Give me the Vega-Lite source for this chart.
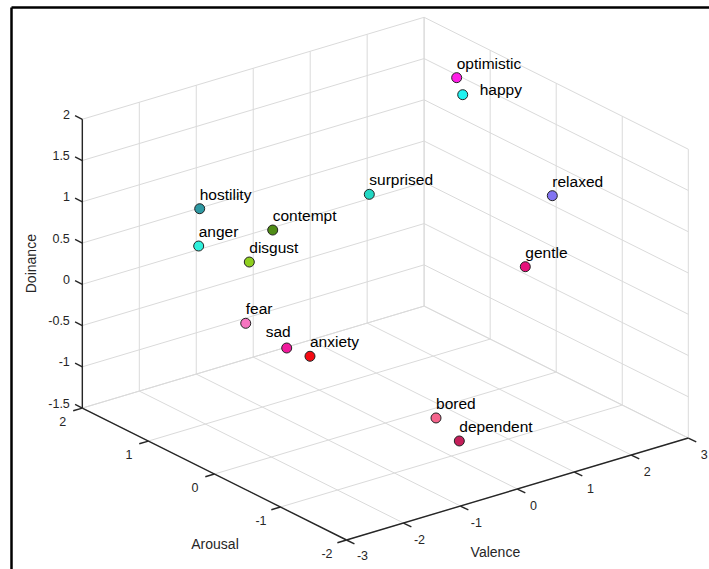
{
  "$schema": "https://vega.github.io/schema/vega-lite/v6.json",
  "width": 698,
  "height": 562,
  "autosize": {"type": "none"},
  "padding": {"left": 11, "top": 7, "right": 0, "bottom": 0},
  "background": "white",
  "config": {
    "view": {"stroke": null},
    "font": "Liberation Sans",
    "text": {"font": "Liberation Sans"},
    "axis": {"domain": true, "domainColor": "#000000", "domainWidth": 2.5, "ticks": false, "labels": false, "grid": false, "title": null}
  },
  "datasets": {
    "emotions": [
      {"name": "hostility", "v": -2.099, "a": 1.0, "d": 1.130},
      {"name": "anger", "v": -1.885, "a": 1.2, "d": 0.554},
      {"name": "contempt", "v": -1.397, "a": 0.5, "d": 0.927},
      {"name": "disgust", "v": -1.808, "a": 0.5, "d": 0.624},
      {"name": "fear", "v": -1.291, "a": 1.0, "d": -0.425},
      {"name": "sad", "v": -1.731, "a": 0.0, "d": -0.234},
      {"name": "anxiety", "v": -0.163, "a": 1.0, "d": -1.057},
      {"name": "surprised", "v": 1.458, "a": 1.5, "d": 0.372},
      {"name": "optimistic", "v": 2.412, "a": 1.0, "d": 1.789},
      {"name": "happy", "v": 2.518, "a": 1.0, "d": 1.561},
      {"name": "relaxed", "v": 1.772, "a": -1.0, "d": 1.290},
      {"name": "gentle", "v": 1.298, "a": -1.0, "d": 0.527},
      {"name": "bored", "v": -0.849, "a": -1.5, "d": -0.664},
      {"name": "dependent", "v": -0.440, "a": -1.5, "d": -1.027}
    ],
    "grid": [
      {"v1": -3, "a1": 2, "d1": -1.5, "v2": -3, "a2": 2, "d2": 2},
      {"v1": -2, "a1": 2, "d1": -1.5, "v2": -2, "a2": 2, "d2": 2},
      {"v1": -1, "a1": 2, "d1": -1.5, "v2": -1, "a2": 2, "d2": 2},
      {"v1": 0, "a1": 2, "d1": -1.5, "v2": 0, "a2": 2, "d2": 2},
      {"v1": 1, "a1": 2, "d1": -1.5, "v2": 1, "a2": 2, "d2": 2},
      {"v1": 2, "a1": 2, "d1": -1.5, "v2": 2, "a2": 2, "d2": 2},
      {"v1": 3, "a1": 2, "d1": -1.5, "v2": 3, "a2": 2, "d2": 2},
      {"v1": -3, "a1": 2, "d1": -1.5, "v2": 3, "a2": 2, "d2": -1.5},
      {"v1": -3, "a1": 2, "d1": -1, "v2": 3, "a2": 2, "d2": -1},
      {"v1": -3, "a1": 2, "d1": -0.5, "v2": 3, "a2": 2, "d2": -0.5},
      {"v1": -3, "a1": 2, "d1": 0, "v2": 3, "a2": 2, "d2": 0},
      {"v1": -3, "a1": 2, "d1": 0.5, "v2": 3, "a2": 2, "d2": 0.5},
      {"v1": -3, "a1": 2, "d1": 1, "v2": 3, "a2": 2, "d2": 1},
      {"v1": -3, "a1": 2, "d1": 1.5, "v2": 3, "a2": 2, "d2": 1.5},
      {"v1": -3, "a1": 2, "d1": 2, "v2": 3, "a2": 2, "d2": 2},
      {"v1": 3, "a1": -2, "d1": -1.5, "v2": 3, "a2": -2, "d2": 2},
      {"v1": 3, "a1": -1, "d1": -1.5, "v2": 3, "a2": -1, "d2": 2},
      {"v1": 3, "a1": 0, "d1": -1.5, "v2": 3, "a2": 0, "d2": 2},
      {"v1": 3, "a1": 1, "d1": -1.5, "v2": 3, "a2": 1, "d2": 2},
      {"v1": 3, "a1": 2, "d1": -1.5, "v2": 3, "a2": 2, "d2": 2},
      {"v1": 3, "a1": -2, "d1": -1.5, "v2": 3, "a2": 2, "d2": -1.5},
      {"v1": 3, "a1": -2, "d1": -1, "v2": 3, "a2": 2, "d2": -1},
      {"v1": 3, "a1": -2, "d1": -0.5, "v2": 3, "a2": 2, "d2": -0.5},
      {"v1": 3, "a1": -2, "d1": 0, "v2": 3, "a2": 2, "d2": 0},
      {"v1": 3, "a1": -2, "d1": 0.5, "v2": 3, "a2": 2, "d2": 0.5},
      {"v1": 3, "a1": -2, "d1": 1, "v2": 3, "a2": 2, "d2": 1},
      {"v1": 3, "a1": -2, "d1": 1.5, "v2": 3, "a2": 2, "d2": 1.5},
      {"v1": 3, "a1": -2, "d1": 2, "v2": 3, "a2": 2, "d2": 2},
      {"v1": -3, "a1": -2, "d1": -1.5, "v2": -3, "a2": 2, "d2": -1.5},
      {"v1": -2, "a1": -2, "d1": -1.5, "v2": -2, "a2": 2, "d2": -1.5},
      {"v1": -1, "a1": -2, "d1": -1.5, "v2": -1, "a2": 2, "d2": -1.5},
      {"v1": 0, "a1": -2, "d1": -1.5, "v2": 0, "a2": 2, "d2": -1.5},
      {"v1": 1, "a1": -2, "d1": -1.5, "v2": 1, "a2": 2, "d2": -1.5},
      {"v1": 2, "a1": -2, "d1": -1.5, "v2": 2, "a2": 2, "d2": -1.5},
      {"v1": 3, "a1": -2, "d1": -1.5, "v2": 3, "a2": 2, "d2": -1.5},
      {"v1": -3, "a1": -2, "d1": -1.5, "v2": 3, "a2": -2, "d2": -1.5},
      {"v1": -3, "a1": -1, "d1": -1.5, "v2": 3, "a2": -1, "d2": -1.5},
      {"v1": -3, "a1": 0, "d1": -1.5, "v2": 3, "a2": 0, "d2": -1.5},
      {"v1": -3, "a1": 1, "d1": -1.5, "v2": 3, "a2": 1, "d2": -1.5},
      {"v1": -3, "a1": 2, "d1": -1.5, "v2": 3, "a2": 2, "d2": -1.5}
    ],
    "axes": [
      {"v1": -3, "a1": 2, "d1": -1.5, "v2": -3, "a2": 2, "d2": 2},
      {"v1": -3, "a1": 2, "d1": -1.5, "v2": -3, "a2": -2, "d2": -1.5},
      {"v1": -3, "a1": -2, "d1": -1.5, "v2": 3, "a2": -2, "d2": -1.5},
      {"v1": -3, "a1": 2, "d1": -1.5, "v2": -3, "a2": 2.11, "d2": -1.5},
      {"v1": -3, "a1": 2, "d1": -1, "v2": -3, "a2": 2.11, "d2": -1},
      {"v1": -3, "a1": 2, "d1": -0.5, "v2": -3, "a2": 2.11, "d2": -0.5},
      {"v1": -3, "a1": 2, "d1": 0, "v2": -3, "a2": 2.11, "d2": 0},
      {"v1": -3, "a1": 2, "d1": 0.5, "v2": -3, "a2": 2.11, "d2": 0.5},
      {"v1": -3, "a1": 2, "d1": 1, "v2": -3, "a2": 2.11, "d2": 1},
      {"v1": -3, "a1": 2, "d1": 1.5, "v2": -3, "a2": 2.11, "d2": 1.5},
      {"v1": -3, "a1": 2, "d1": 2, "v2": -3, "a2": 2.11, "d2": 2},
      {"v1": -3, "a1": 2, "d1": -1.5, "v2": -3.16, "a2": 2, "d2": -1.5},
      {"v1": -3, "a1": 1, "d1": -1.5, "v2": -3.16, "a2": 1, "d2": -1.5},
      {"v1": -3, "a1": 0, "d1": -1.5, "v2": -3.16, "a2": 0, "d2": -1.5},
      {"v1": -3, "a1": -1, "d1": -1.5, "v2": -3.16, "a2": -1, "d2": -1.5},
      {"v1": -3, "a1": -2, "d1": -1.5, "v2": -3.16, "a2": -2, "d2": -1.5},
      {"v1": -3, "a1": -2, "d1": -1.5, "v2": -3, "a2": -2.12, "d2": -1.5},
      {"v1": -2, "a1": -2, "d1": -1.5, "v2": -2, "a2": -2.12, "d2": -1.5},
      {"v1": -1, "a1": -2, "d1": -1.5, "v2": -1, "a2": -2.12, "d2": -1.5},
      {"v1": 0, "a1": -2, "d1": -1.5, "v2": 0, "a2": -2.12, "d2": -1.5},
      {"v1": 1, "a1": -2, "d1": -1.5, "v2": 1, "a2": -2.12, "d2": -1.5},
      {"v1": 2, "a1": -2, "d1": -1.5, "v2": 2, "a2": -2.12, "d2": -1.5},
      {"v1": 3, "a1": -2, "d1": -1.5, "v2": 3, "a2": -2.12, "d2": -1.5}
    ],
    "ticklabels": [
      {"ax": "d", "t": "2", "v": -3, "a": 2, "d": 2},
      {"ax": "d", "t": "1.5", "v": -3, "a": 2, "d": 1.5},
      {"ax": "d", "t": "1", "v": -3, "a": 2, "d": 1},
      {"ax": "d", "t": "0.5", "v": -3, "a": 2, "d": 0.5},
      {"ax": "d", "t": "0", "v": -3, "a": 2, "d": 0},
      {"ax": "d", "t": "-0.5", "v": -3, "a": 2, "d": -0.5},
      {"ax": "d", "t": "-1", "v": -3, "a": 2, "d": -1},
      {"ax": "d", "t": "-1.5", "v": -3, "a": 2, "d": -1.5},
      {"ax": "a", "t": "2", "v": -3, "a": 2, "d": -1.5},
      {"ax": "a", "t": "1", "v": -3, "a": 1, "d": -1.5},
      {"ax": "a", "t": "0", "v": -3, "a": 0, "d": -1.5},
      {"ax": "a", "t": "-1", "v": -3, "a": -1, "d": -1.5},
      {"ax": "a", "t": "-2", "v": -3, "a": -2, "d": -1.5},
      {"ax": "v", "t": "-3", "v": -3, "a": -2, "d": -1.5},
      {"ax": "v", "t": "-2", "v": -2, "a": -2, "d": -1.5},
      {"ax": "v", "t": "-1", "v": -1, "a": -2, "d": -1.5},
      {"ax": "v", "t": "0", "v": 0, "a": -2, "d": -1.5},
      {"ax": "v", "t": "1", "v": 1, "a": -2, "d": -1.5},
      {"ax": "v", "t": "2", "v": 2, "a": -2, "d": -1.5},
      {"ax": "v", "t": "3", "v": 3, "a": -2, "d": -1.5}
    ],
    "titles": [
      {"ax": "d", "t": "Doinance", "v": -3, "a": 2, "d": 0.25},
      {"ax": "a", "t": "Arousal", "v": -3, "a": 0, "d": -1.5},
      {"ax": "v", "t": "Valence", "v": 0, "a": -2, "d": -1.5}
    ]
  },
  "layer": [
    {
      "data": {"name": "grid"},
      "transform": [
        {"calculate": "0.7912*(datum.v1+3)/6-0.6115*(datum.a1+2)/4", "as": "X1"},
        {"calculate": "0.30575*(datum.v1+3)/6+0.3956*(datum.a1+2)/4+0.866*(datum.d1+1.5)/3.5", "as": "Y1"},
        {"calculate": "0.7912*(datum.v2+3)/6-0.6115*(datum.a2+2)/4", "as": "X2"},
        {"calculate": "0.30575*(datum.v2+3)/6+0.3956*(datum.a2+2)/4+0.866*(datum.d2+1.5)/3.5", "as": "Y2"}
      ],
      "mark": {"type": "rule", "color": "#dadada", "strokeWidth": 1},
      "encoding": {
        "x": {"field": "X1", "type": "quantitative", "scale": {"domain": [-0.77662, 0.83912], "nice": false, "zero": false}, "axis": {"orient": "top"}},
        "y": {"field": "Y1", "type": "quantitative", "scale": {"domain": [-0.08696, 1.5982], "nice": false, "zero": false}, "axis": {"orient": "left"}},
        "x2": {"field": "X2"},
        "y2": {"field": "Y2"}
      }
    },
    {
      "data": {"name": "axes"},
      "transform": [
        {"calculate": "0.7912*(datum.v1+3)/6-0.6115*(datum.a1+2)/4", "as": "X1"},
        {"calculate": "0.30575*(datum.v1+3)/6+0.3956*(datum.a1+2)/4+0.866*(datum.d1+1.5)/3.5", "as": "Y1"},
        {"calculate": "0.7912*(datum.v2+3)/6-0.6115*(datum.a2+2)/4", "as": "X2"},
        {"calculate": "0.30575*(datum.v2+3)/6+0.3956*(datum.a2+2)/4+0.866*(datum.d2+1.5)/3.5", "as": "Y2"}
      ],
      "mark": {"type": "rule", "color": "#262626", "strokeWidth": 1.4},
      "encoding": {
        "x": {"field": "X1", "type": "quantitative", "axis": {"orient": "top"}},
        "y": {"field": "Y1", "type": "quantitative", "axis": {"orient": "left"}},
        "x2": {"field": "X2"},
        "y2": {"field": "Y2"}
      }
    },
    {
      "data": {"name": "ticklabels"},
      "transform": [
        {"filter": "datum.ax == 'd'"},
        {"calculate": "0.7912*(datum.v+3)/6-0.6115*(datum.a+2)/4", "as": "X"},
        {"calculate": "0.30575*(datum.v+3)/6+0.3956*(datum.a+2)/4+0.866*(datum.d+1.5)/3.5", "as": "Y"}
      ],
      "mark": {"type": "text", "align": "right", "baseline": "middle", "dx": -12.5, "dy": -4.5, "fontSize": 12.5, "color": "#262626"},
      "encoding": {
        "x": {"field": "X", "type": "quantitative", "axis": {"orient": "top"}},
        "y": {"field": "Y", "type": "quantitative", "axis": {"orient": "left"}},
        "text": {"field": "t"}
      }
    },
    {
      "data": {"name": "ticklabels"},
      "transform": [
        {"filter": "datum.ax == 'a'"},
        {"calculate": "0.7912*(datum.v+3)/6-0.6115*(datum.a+2)/4", "as": "X"},
        {"calculate": "0.30575*(datum.v+3)/6+0.3956*(datum.a+2)/4+0.866*(datum.d+1.5)/3.5", "as": "Y"}
      ],
      "mark": {"type": "text", "align": "center", "baseline": "middle", "dx": -19.5, "dy": 14, "fontSize": 12.5, "color": "#262626"},
      "encoding": {
        "x": {"field": "X", "type": "quantitative", "axis": {"orient": "top"}},
        "y": {"field": "Y", "type": "quantitative", "axis": {"orient": "left"}},
        "text": {"field": "t"}
      }
    },
    {
      "data": {"name": "ticklabels"},
      "transform": [
        {"filter": "datum.ax == 'v'"},
        {"calculate": "0.7912*(datum.v+3)/6-0.6115*(datum.a+2)/4", "as": "X"},
        {"calculate": "0.30575*(datum.v+3)/6+0.3956*(datum.a+2)/4+0.866*(datum.d+1.5)/3.5", "as": "Y"}
      ],
      "mark": {"type": "text", "align": "center", "baseline": "middle", "dx": 16, "dy": 16.5, "fontSize": 12.5, "color": "#262626"},
      "encoding": {
        "x": {"field": "X", "type": "quantitative", "axis": {"orient": "top"}},
        "y": {"field": "Y", "type": "quantitative", "axis": {"orient": "left"}},
        "text": {"field": "t"}
      }
    },
    {
      "data": {"name": "titles"},
      "transform": [
        {"filter": "datum.ax == 'd'"},
        {"calculate": "0.7912*(datum.v+3)/6-0.6115*(datum.a+2)/4", "as": "X"},
        {"calculate": "0.30575*(datum.v+3)/6+0.3956*(datum.a+2)/4+0.866*(datum.d+1.5)/3.5", "as": "Y"}
      ],
      "mark": {"type": "text", "align": "center", "baseline": "middle", "angle": 270, "dy": -50, "fontSize": 14, "color": "#262626"},
      "encoding": {
        "x": {"field": "X", "type": "quantitative", "axis": {"orient": "top"}},
        "y": {"field": "Y", "type": "quantitative", "axis": {"orient": "left"}},
        "text": {"field": "t"}
      }
    },
    {
      "data": {"name": "titles"},
      "transform": [
        {"filter": "datum.ax == 'a'"},
        {"calculate": "0.7912*(datum.v+3)/6-0.6115*(datum.a+2)/4", "as": "X"},
        {"calculate": "0.30575*(datum.v+3)/6+0.3956*(datum.a+2)/4+0.866*(datum.d+1.5)/3.5", "as": "Y"}
      ],
      "mark": {"type": "text", "align": "center", "baseline": "middle", "dx": 0.6, "dy": 71, "fontSize": 14, "color": "#262626"},
      "encoding": {
        "x": {"field": "X", "type": "quantitative", "axis": {"orient": "top"}},
        "y": {"field": "Y", "type": "quantitative", "axis": {"orient": "left"}},
        "text": {"field": "t"}
      }
    },
    {
      "data": {"name": "titles"},
      "transform": [
        {"filter": "datum.ax == 'v'"},
        {"calculate": "0.7912*(datum.v+3)/6-0.6115*(datum.a+2)/4", "as": "X"},
        {"calculate": "0.30575*(datum.v+3)/6+0.3956*(datum.a+2)/4+0.866*(datum.d+1.5)/3.5", "as": "Y"}
      ],
      "mark": {"type": "text", "align": "center", "baseline": "middle", "dx": -22, "dy": 64, "fontSize": 14, "color": "#262626"},
      "encoding": {
        "x": {"field": "X", "type": "quantitative", "axis": {"orient": "top"}},
        "y": {"field": "Y", "type": "quantitative", "axis": {"orient": "left"}},
        "text": {"field": "t"}
      }
    },
    {
      "data": {"name": "emotions"},
      "transform": [
        {"calculate": "0.7912*(datum.v+3)/6-0.6115*(datum.a+2)/4", "as": "X"},
        {"calculate": "0.30575*(datum.v+3)/6+0.3956*(datum.a+2)/4+0.866*(datum.d+1.5)/3.5", "as": "Y"}
      ],
      "mark": {"type": "circle", "size": 100, "stroke": "#222222", "strokeWidth": 1, "opacity": 1},
      "encoding": {
        "x": {"field": "X", "type": "quantitative", "axis": {"orient": "top"}},
        "y": {"field": "Y", "type": "quantitative", "axis": {"orient": "left"}},
        "fill": {
          "field": "name", "type": "nominal", "legend": null,
          "scale": {
            "domain": ["hostility", "anger", "contempt", "disgust", "fear", "sad", "anxiety", "surprised", "optimistic", "happy", "relaxed", "gentle", "bored", "dependent"],
            "range": ["#2e99a3", "#2ff0dc", "#4f8c16", "#8fcf1f", "#f675c0", "#f01a9c", "#f50a12", "#22d8c4", "#ff1ee6", "#1ff2f0", "#8274f2", "#e6127a", "#f5648c", "#c41f5a"]
          }
        }
      }
    },
    {
      "data": {"name": "emotions"},
      "transform": [
        {"filter": "datum.name != 'happy' && datum.name != 'sad'"},
        {"calculate": "0.7912*(datum.v+3)/6-0.6115*(datum.a+2)/4", "as": "X"},
        {"calculate": "0.30575*(datum.v+3)/6+0.3956*(datum.a+2)/4+0.866*(datum.d+1.5)/3.5", "as": "Y"}
      ],
      "mark": {"type": "text", "align": "left", "baseline": "alphabetic", "dx": 0, "dy": -9, "fontSize": 15.5, "color": "#000000"},
      "encoding": {
        "x": {"field": "X", "type": "quantitative", "axis": {"orient": "top"}},
        "y": {"field": "Y", "type": "quantitative", "axis": {"orient": "left"}},
        "text": {"field": "name"}
      }
    },
    {
      "data": {"name": "emotions"},
      "transform": [
        {"filter": "datum.name == 'happy'"},
        {"calculate": "0.7912*(datum.v+3)/6-0.6115*(datum.a+2)/4", "as": "X"},
        {"calculate": "0.30575*(datum.v+3)/6+0.3956*(datum.a+2)/4+0.866*(datum.d+1.5)/3.5", "as": "Y"}
      ],
      "mark": {"type": "text", "align": "left", "baseline": "alphabetic", "dx": 17, "dy": 0, "fontSize": 15.5, "color": "#000000"},
      "encoding": {
        "x": {"field": "X", "type": "quantitative", "axis": {"orient": "top"}},
        "y": {"field": "Y", "type": "quantitative", "axis": {"orient": "left"}},
        "text": {"field": "name"}
      }
    },
    {
      "data": {"name": "emotions"},
      "transform": [
        {"filter": "datum.name == 'sad'"},
        {"calculate": "0.7912*(datum.v+3)/6-0.6115*(datum.a+2)/4", "as": "X"},
        {"calculate": "0.30575*(datum.v+3)/6+0.3956*(datum.a+2)/4+0.866*(datum.d+1.5)/3.5", "as": "Y"}
      ],
      "mark": {"type": "text", "align": "left", "baseline": "alphabetic", "dx": -21, "dy": -10.5, "fontSize": 15.5, "color": "#000000"},
      "encoding": {
        "x": {"field": "X", "type": "quantitative", "axis": {"orient": "top"}},
        "y": {"field": "Y", "type": "quantitative", "axis": {"orient": "left"}},
        "text": {"field": "name"}
      }
    }
  ]
}
